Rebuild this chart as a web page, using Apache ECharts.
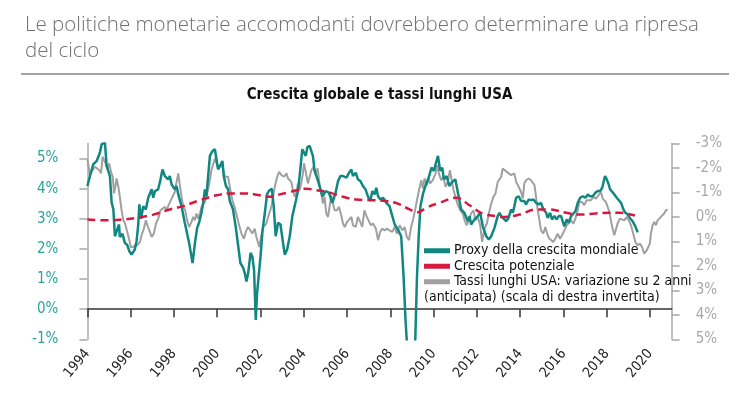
<!DOCTYPE html>
<html>
<head>
<meta charset="utf-8">
<script src="https://cdn.jsdelivr.net/npm/echarts@6/dist/echarts.min.js"></script>
<style>
html,body{margin:0;padding:0;background:#fff;}
#chart{width:751px;height:398px;}
</style>
</head>
<body>
<div id="chart"></div>
<script>
// ---- Data ----
const headline = 'Le politiche monetarie accomodanti dovrebbero determinare una ripresa\ndel ciclo';
const chartTitle = 'Crescita globale e tassi lunghi USA';
const seriesNames = ['Proxy della crescita mondiale', 'Crescita potenziale', 'Tassi lunghi USA: variazione su 2 anni'];
const legendNote = '(anticipata) (scala di destra invertita)';
const yearTicks = [1994,1996,1998,2000,2002,2004,2006,2008,2010,2012,2014,2016,2018,2020];
const leftTicks = [-1,0,1,2,3,4,5];
const rightTicks = [-3,-2,-1,0,1,2,3,4,5];

// Proxy della crescita mondiale (%; left axis)
const proxyGrowth = [
[1994.00,4.09],[1994.12,4.42],[1994.27,4.81],[1994.43,4.92],[1994.58,5.20],[1994.66,5.48],[1994.81,5.53],[1994.89,4.75],[1994.96,4.60],
[1995.04,4.42],[1995.12,3.54],[1995.20,3.31],[1995.27,2.42],[1995.35,2.40],[1995.46,2.81],[1995.50,2.40],[1995.62,2.50],[1995.73,2.20],[1995.84,2.13],[1995.94,1.92],
[1996.04,1.81],[1996.19,1.98],[1996.27,2.25],[1996.35,2.81],[1996.40,3.48],[1996.48,3.00],[1996.58,3.42],[1996.70,3.31],[1996.81,3.70],[1996.97,3.98],
[1997.04,3.70],[1997.12,3.92],[1997.27,3.98],[1997.38,4.31],[1997.47,4.64],[1997.58,4.42],[1997.73,4.31],[1997.81,4.42],[1997.89,4.14],
[1998.04,3.98],[1998.12,4.09],[1998.20,3.81],[1998.35,3.42],[1998.50,2.87],[1998.70,2.20],[1998.86,1.53],[1998.97,2.20],
[1999.07,2.70],[1999.16,2.87],[1999.27,3.20],[1999.35,3.53],[1999.43,3.98],[1999.50,3.75],[1999.58,4.42],[1999.66,5.09],[1999.78,5.25],[1999.89,5.31],[1999.97,4.95],
[2000.04,4.64],[2000.12,4.75],[2000.24,4.92],[2000.30,4.42],[2000.40,4.09],[2000.50,3.98],[2000.58,3.59],[2000.73,3.31],[2000.86,2.70],[2000.97,2.09],
[2001.07,1.53],[2001.20,1.37],[2001.27,1.20],[2001.35,0.92],[2001.43,1.20],[2001.54,1.87],[2001.62,1.75],[2001.70,1.31],[2001.78,-0.36],[2001.84,0.53],[2001.90,0.59],
[2002.00,1.75],[2002.09,2.59],[2002.20,3.20],[2002.30,3.81],[2002.38,3.92],[2002.46,3.98],[2002.52,4.00],[2002.61,3.42],[2002.70,2.42],[2002.81,2.87],[2002.92,2.81],
[2003.04,2.20],[2003.12,1.81],[2003.23,1.98],[2003.35,2.42],[2003.47,3.09],[2003.63,3.59],[2003.73,3.92],[2003.84,4.64],[2003.93,5.31],
[2004.01,5.37],[2004.09,5.09],[2004.16,5.37],[2004.27,5.42],[2004.35,5.48],[2004.42,5.09],[2004.50,4.59],[2004.66,4.25],[2004.77,3.98],[2004.86,3.75],
[2005.01,3.92],[2005.16,3.87],[2005.32,3.53],[2005.47,3.87],[2005.58,4.25],[2005.69,4.42],[2005.81,4.42],[2005.97,4.37],
[2006.09,4.53],[2006.20,4.64],[2006.27,4.42],[2006.40,4.53],[2006.50,4.31],[2006.62,4.25],[2006.73,4.09],[2006.85,3.98],[2006.96,3.75],
[2007.07,3.59],[2007.17,3.92],[2007.27,3.81],[2007.35,4.03],[2007.43,3.75],[2007.54,3.64],[2007.66,3.70],[2007.81,3.53],[2007.96,3.42],
[2008.09,3.09],[2008.20,2.81],[2008.35,2.64],[2008.50,2.42],[2008.61,1.09],[2008.70,-0.36],[2008.78,-1.30],
[2009.14,-1.30],[2009.23,1.09],[2009.31,2.42],[2009.39,3.42],[2009.50,3.81],[2009.62,4.09],[2009.77,4.37],[2009.90,4.70],
[2010.01,4.59],[2010.09,4.81],[2010.20,5.09],[2010.30,4.59],[2010.40,4.70],[2010.47,4.31],[2010.60,4.42],[2010.72,4.09],[2010.83,4.20],
[2011.00,4.31],[2011.12,3.87],[2011.27,3.31],[2011.42,3.20],[2011.58,2.92],[2011.66,3.09],[2011.73,2.81],[2011.89,2.98],
[2012.04,3.09],[2012.15,3.20],[2012.27,2.75],[2012.43,2.42],[2012.55,2.31],[2012.66,2.42],[2012.81,2.70],[2012.96,3.09],
[2013.04,3.20],[2013.12,3.09],[2013.20,3.14],[2013.35,2.92],[2013.46,3.03],[2013.58,3.31],[2013.66,3.20],[2013.73,3.42],[2013.81,3.70],[2013.93,3.75],
[2014.04,3.59],[2014.12,3.64],[2014.19,3.59],[2014.27,3.48],[2014.39,3.64],[2014.50,3.62],[2014.61,3.64],[2014.73,3.53],[2014.85,3.48],[2014.96,3.53],
[2015.07,3.31],[2015.20,3.20],[2015.27,3.03],[2015.38,3.20],[2015.47,2.98],[2015.58,3.09],[2015.69,2.98],[2015.78,3.09],[2015.89,3.09],[2015.96,2.92],
[2016.04,2.75],[2016.15,2.98],[2016.24,2.87],[2016.35,3.09],[2016.43,3.03],[2016.55,3.25],[2016.66,3.53],[2016.77,3.70],[2016.89,3.75],
[2017.01,3.70],[2017.12,3.81],[2017.22,3.75],[2017.35,3.75],[2017.48,3.87],[2017.58,3.92],[2017.69,3.92],[2017.79,4.03],[2017.86,4.25],[2017.92,4.42],
[2018.00,4.31],[2018.09,4.14],[2018.15,3.98],[2018.24,4.03],[2018.35,3.81],[2018.46,3.70],[2018.55,3.64],[2018.66,3.53],[2018.77,3.31],[2018.86,3.20],[2018.97,3.14],
[2019.07,3.03],[2019.19,2.92],[2019.32,2.75],[2019.43,2.55]
];

// Crescita potenziale (%; left axis)
const potentialGrowth = [
[1994.00,2.98],[1994.90,2.95],[1995.50,2.97],[1996.27,3.03],[1997.04,3.14],[1997.81,3.31],[1998.43,3.42],[1999.20,3.62],[1999.97,3.78],
[2000.58,3.84],[2001.35,3.84],[2001.97,3.78],[2002.43,3.73],[2002.89,3.81],[2003.35,3.89],[2003.66,3.95],[2004.12,4.00],[2004.58,3.95],
[2005.20,3.87],[2005.81,3.73],[2006.43,3.64],[2007.20,3.62],[2007.81,3.59],[2008.43,3.48],[2008.89,3.31],[2009.27,3.22],[2009.66,3.37],
[2010.27,3.53],[2011.04,3.70],[2011.66,3.45],[2012.27,3.17],[2012.89,3.09],[2013.19,3.06],[2013.96,3.14],[2014.73,3.31],[2015.35,3.31],
[2016.12,3.20],[2016.73,3.14],[2017.50,3.18],[2018.12,3.20],[2018.58,3.20],[2019.30,3.11]
];

// Tassi lunghi USA: variazione su 2 anni (pp; right axis, inverted)
const usLongRates = [
[1994.00,-2.35],[1994.04,-2.30],[1994.12,-1.71],[1994.19,-1.84],[1994.27,-1.78],[1994.35,-2.05],[1994.45,-1.98],[1994.55,-1.91],[1994.63,-1.78],[1994.70,-2.46],[1994.77,-2.32],[1994.84,-2.19],[1994.92,-1.98],
[1995.01,-2.19],[1995.09,-1.84],[1995.17,-1.64],[1995.23,-0.96],[1995.29,-1.23],[1995.35,-1.57],[1995.43,-1.23],[1995.50,-0.82],[1995.58,-0.27],[1995.66,0.14],[1995.74,0.27],[1995.84,0.61],[1995.94,0.95],
[1996.00,1.23],[1996.10,1.23],[1996.20,1.16],[1996.30,1.16],[1996.43,1.02],[1996.50,0.75],[1996.61,0.48],[1996.70,0.14],[1996.77,0.34],[1996.89,0.61],[1996.97,0.82],
[1997.07,0.68],[1997.17,0.27],[1997.27,0.07],[1997.38,-0.27],[1997.47,-0.34],[1997.58,-0.41],[1997.66,-0.27],[1997.75,-0.48],[1997.84,-0.48],[1997.93,-0.82],
[1998.04,-1.02],[1998.12,-1.43],[1998.20,-1.78],[1998.27,-1.30],[1998.35,-0.82],[1998.43,-0.41],[1998.52,-0.27],[1998.61,0.14],[1998.70,0.41],[1998.81,0.20],[1998.89,0.00],[1998.97,0.14],
[1999.04,-0.14],[1999.12,0.07],[1999.20,-0.14],[1999.27,-0.41],[1999.35,-0.48],[1999.43,-0.61],[1999.50,-0.82],[1999.58,-1.16],[1999.66,-1.50],[1999.73,-1.91],[1999.81,-1.98],[1999.89,-2.39],[1999.97,-2.19],
[2000.04,-1.98],[2000.12,-1.91],[2000.20,-2.12],[2000.27,-1.98],[2000.35,-1.64],[2000.43,-1.57],[2000.50,-1.64],[2000.58,-1.23],[2000.70,-0.68],[2000.80,-0.41],[2000.92,0.00],
[2001.01,0.34],[2001.12,0.68],[2001.23,0.89],[2001.32,0.61],[2001.42,0.41],[2001.53,0.55],[2001.62,0.68],[2001.73,0.48],[2001.81,0.82],[2001.94,1.23],
[2002.04,0.75],[2002.13,0.41],[2002.20,0.48],[2002.27,0.27],[2002.40,-0.14],[2002.50,-0.41],[2002.58,-0.82],[2002.66,-1.23],[2002.77,-1.64],[2002.86,-1.84],[2002.97,-1.71],
[2003.09,-1.64],[2003.20,-1.78],[2003.27,-1.57],[2003.35,-1.64],[2003.42,-1.43],[2003.50,-1.09],[2003.58,-0.82],[2003.66,-1.02],[2003.73,-1.37],[2003.81,-1.09],[2003.89,-1.43],[2003.96,-1.78],
[2004.01,-2.19],[2004.09,-1.84],[2004.19,-1.37],[2004.27,-1.64],[2004.35,-1.91],[2004.45,-2.05],[2004.54,-1.78],[2004.64,-1.98],[2004.73,-1.30],[2004.81,-0.96],[2004.88,-0.55],[2004.96,-0.82],
[2005.04,-0.14],[2005.12,0.00],[2005.20,-0.48],[2005.27,-0.89],[2005.35,-0.55],[2005.42,-0.27],[2005.53,-0.27],[2005.62,-0.41],[2005.73,-0.07],[2005.81,0.27],[2005.89,0.41],
[2006.00,0.20],[2006.09,0.27],[2006.20,0.00],[2006.27,0.34],[2006.40,0.41],[2006.50,0.00],[2006.61,0.20],[2006.70,0.41],[2006.80,-0.27],[2006.91,0.00],
[2007.00,0.07],[2007.10,0.34],[2007.20,0.27],[2007.33,0.48],[2007.43,0.95],[2007.53,0.61],[2007.63,0.48],[2007.73,0.55],[2007.84,0.48],[2007.96,0.55],
[2008.09,0.61],[2008.20,0.41],[2008.30,0.68],[2008.43,0.34],[2008.55,0.55],[2008.66,0.41],[2008.76,0.82],[2008.86,0.95],[2008.96,0.41],
[2009.06,0.07],[2009.14,-0.27],[2009.23,-0.68],[2009.34,-1.16],[2009.43,-1.50],[2009.50,-1.16],[2009.58,-1.57],[2009.69,-1.30],[2009.77,-1.57],[2009.84,-1.37],[2009.96,-1.50],
[2010.09,-1.78],[2010.15,-2.12],[2010.24,-1.78],[2010.35,-1.50],[2010.45,-1.64],[2010.55,-1.23],[2010.66,-1.43],[2010.75,-1.91],[2010.82,-1.57],[2010.92,-1.09],
[2011.01,-0.82],[2011.12,-0.48],[2011.23,-0.27],[2011.35,-0.14],[2011.43,0.14],[2011.53,0.34],[2011.62,0.14],[2011.73,-0.14],[2011.84,-0.27],[2011.93,0.14],
[2012.04,0.00],[2012.15,0.34],[2012.24,1.02],[2012.35,0.48],[2012.46,0.27],[2012.55,-0.14],[2012.66,-0.55],[2012.76,-0.82],[2012.86,-0.96],[2012.96,-1.43],
[2013.12,-1.64],[2013.19,-1.98],[2013.27,-2.05],[2013.38,-1.84],[2013.47,-1.78],[2013.58,-1.71],[2013.65,-1.64],[2013.73,-1.78],[2013.81,-1.43],[2013.93,-1.23],
[2014.04,-1.02],[2014.12,-0.75],[2014.19,-1.37],[2014.27,-1.50],[2014.39,-1.57],[2014.50,-1.50],[2014.58,-1.57],[2014.66,-1.30],[2014.73,-0.82],[2014.81,-0.27],[2014.89,0.14],[2014.96,0.55],
[2015.07,0.68],[2015.16,0.41],[2015.27,0.75],[2015.35,0.89],[2015.43,0.82],[2015.53,1.02],[2015.62,0.89],[2015.73,0.68],[2015.84,0.89],[2015.93,0.75],
[2016.04,0.55],[2016.15,0.34],[2016.24,0.27],[2016.35,0.14],[2016.46,0.27],[2016.55,0.07],[2016.66,-0.27],[2016.73,-0.61],[2016.86,-0.61],[2016.96,-0.48],
[2017.07,-0.68],[2017.16,-0.75],[2017.27,-0.68],[2017.38,-0.82],[2017.50,-0.75],[2017.62,-0.89],[2017.73,-1.02],[2017.81,-0.75],[2017.89,-0.82],[2017.96,-0.61],
[2018.04,-0.41],[2018.12,-0.20],[2018.19,0.14],[2018.27,0.48],[2018.35,0.75],[2018.43,0.48],[2018.50,0.27],[2018.61,0.07],[2018.70,0.00],[2018.81,0.14],[2018.92,0.00],
[2019.01,0.14],[2019.12,0.34],[2019.22,0.68],[2019.32,1.02],[2019.42,1.16],[2019.53,1.09],[2019.63,1.23],[2019.73,1.50],[2019.84,1.37],[2019.93,1.43],[2019.99,1.09],
[2020.04,0.68],[2020.12,0.34],[2020.19,0.20],[2020.27,0.34],[2020.35,0.14],[2020.42,0.20],[2020.50,0.00],[2020.58,0.07],[2020.65,-0.14],[2020.73,-0.27],[2020.81,-0.31]
];

// ---- Styles ----
const TEAL = '#118781';
const RED = '#d51a40';
const GRAY = '#a0a0a0';
const NARROW = "'Liberation Sans Narrow', 'DejaVu Sans Condensed', 'Arial Narrow', sans-serif";

const chart = echarts.init(document.getElementById('chart'), null, {renderer: 'canvas'});

const gridLeft = 87.4, gridRight = 79.3, gridTop = 143.5, gridBottom = 58.7;
const legendTop = 243, rowH = 15.5, legendLeft = 424;

const option = {
  animation: false,
  backgroundColor: '#ffffff',
  title: [{
    text: headline,
    left: 20, top: 7,
    textStyle: {color: '#707070', fontSize: 20.5, fontWeight: 300, lineHeight: 26, fontFamily: "'Open Sans', 'Liberation Sans', sans-serif"}
  }],
  graphic: [
    {type: 'line', shape: {x1: 21, y1: 74, x2: 729, y2: 74}, style: {stroke: '#a3a3a3', lineWidth: 2}},
    {type: 'text', x: (gridLeft + 751 - gridRight) / 2, y: 95,
     style: {text: chartTitle, textAlign: 'center', textVerticalAlign: 'middle',
             font: "bold 15px " + NARROW, fill: '#111'}},
    {type: 'text', x: legendLeft, y: legendTop + rowH * 3.5, z: 10,
     style: {text: legendNote, textAlign: 'left', textVerticalAlign: 'middle',
             font: "14px " + NARROW, fill: '#111'}}
  ],
  legend: {
    orient: 'vertical',
    left: legendLeft, top: legendTop,
    padding: 0,
    itemGap: 0,
    itemWidth: 26, itemHeight: 5,
    icon: 'rect',
    data: [
      {name: seriesNames[0], itemStyle: {color: TEAL}},
      {name: seriesNames[1], itemStyle: {color: RED}},
      {name: seriesNames[2], itemStyle: {color: GRAY}}
    ],
    textStyle: {fontFamily: NARROW, fontSize: 14, color: '#111', lineHeight: rowH, padding: [0, 0, 0, -1]},
    selectedMode: false
  },
  grid: {left: gridLeft, right: gridRight, top: gridTop, bottom: gridBottom, containLabel: false},
  xAxis: [{
    type: 'value', min: 1994, max: 2021, interval: 2,
    axisLine: {show: true, onZero: true, onZeroAxisIndex: 0, lineStyle: {color: '#333', width: 1.5}},
    axisTick: {show: true, inside: false, length: 8, customValues: yearTicks, lineStyle: {color: '#333', width: 1.5}},
    axisLabel: {show: false},
    splitLine: {show: false}
  }, {
    type: 'value', min: 1994, max: 2021, interval: 2, position: 'bottom',
    axisLine: {show: false, onZero: false},
    axisTick: {show: false},
    axisLabel: {show: true, customValues: yearTicks, rotate: 50, margin: 12,
                fontFamily: NARROW, fontSize: 14, color: '#222', formatter: v => String(v)},
    splitLine: {show: false}
  }],
  yAxis: [{
    type: 'value', min: -1, max: 5.5, interval: 1, position: 'left',
    axisLine: {show: true, lineStyle: {color: '#a8a8a8', width: 1.5}},
    axisTick: {show: true, length: 8, customValues: leftTicks, lineStyle: {color: '#a8a8a8', width: 1.5}},
    axisLabel: {customValues: leftTicks, margin: 29, fontFamily: NARROW, fontSize: 15, color: '#2ca39b', formatter: v => v + '%'},
    splitLine: {show: false}
  }, {
    type: 'value', min: -3, max: 5, interval: 1, inverse: true, position: 'right',
    axisLine: {show: true, onZero: false, lineStyle: {color: '#a8a8a8', width: 1.5}},
    axisTick: {show: true, length: 8, customValues: rightTicks, lineStyle: {color: '#a8a8a8', width: 1.5}},
    axisLabel: {customValues: rightTicks, margin: 24, fontFamily: NARROW, fontSize: 15, color: '#a8a8a8', formatter: v => v + '%'},
    splitLine: {show: false}
  }],
  series: [{
    name: seriesNames[2], type: 'line', xAxisIndex: 0, yAxisIndex: 1,
    data: usLongRates, showSymbol: false, symbol: 'none', clip: true,
    lineStyle: {color: GRAY, width: 2}, itemStyle: {color: GRAY}, z: 2
  }, {
    name: seriesNames[0], type: 'line', xAxisIndex: 0, yAxisIndex: 0,
    data: proxyGrowth, showSymbol: false, symbol: 'none', clip: true,
    lineStyle: {color: TEAL, width: 2.5}, itemStyle: {color: TEAL}, z: 3
  }, {
    name: seriesNames[1], type: 'line', xAxisIndex: 0, yAxisIndex: 0,
    data: potentialGrowth, showSymbol: false, symbol: 'none', smooth: 0.4, clip: true,
    lineStyle: {color: RED, width: 2.5, type: [8, 5]}, itemStyle: {color: RED}, z: 4
  }]
};
chart.setOption(option);
</script>
</body>
</html>
